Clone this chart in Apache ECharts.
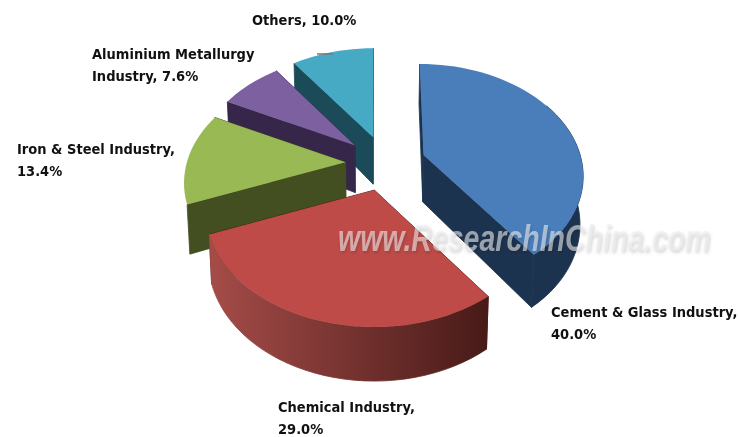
<!DOCTYPE html>
<html>
<head>
<meta charset="utf-8">
<style>
html, body { margin: 0; padding: 0; background: #fff; }
#chart { width: 738px; height: 437px; filter: blur(0.5px); }
</style>
<script src="https://cdn.jsdelivr.net/npm/echarts@6/dist/echarts.min.js"></script>
</head>
<body>
<div id="chart"></div>
<script>
// pie order, clockwise from 12 o'clock
const categories = ['Cement & Glass Industry', 'Chemical Industry', 'Iron & Steel Industry', 'Aluminium Metallurgy Industry', 'Others'];
const shares = [40.0, 29.0, 13.4, 7.6, 10.0];

const topColors = ['#4a7ebb', '#be4b48', '#98b954', '#7d60a0', '#46aac5'];
const wallRight = ['#1c3350', '#471a18', '#434f20', '#35264a', '#1b4a58'];
const wallLeft = ['#1c3350', '#a54c48', '#434f20', '#35264a', '#1b4a58'];
// back to front
const paintOrder = [4, 3, 2, 0, 1];
// label anchors, left edge + first line middle
const labelX = [551, 278, 17, 92, 252];
const labelY = [313, 408, 150, 55, 21];
const labelBreaks = [null, null, null, 'Aluminium Metallurgy\nIndustry', null];

// pie layout
const centerX = 385.5, centerY = 163.5;
const radiusX = 159, radiusY = 107.8, persp = 0.1716;
const explodeX = 40, explodeY = 27.7, explodeWorld = 0.25;
const vanishX = 375;
const depth = 47;

const total = shares.reduce((a, b) => a + b, 0);
let acc = 0;
const startAngle = [], endAngle = [];
shares.forEach((v, i) => {
    startAngle[i] = acc / total * Math.PI * 2;
    acc += v;
    endAngle[i] = acc / total * Math.PI * 2;
});

function project(ox, oy, theta, mid) {
    const X = Math.sin(theta), Y = -Math.cos(theta);
    const s = 1 / (1 - persp * (Y - explodeWorld * Math.cos(mid)));
    return [ox + radiusX * X * s + (ox - vanishX) * (s - 1) * 0.5, oy + radiusY * Y * s, Y, theta];
}
// wall bottom: slightly longer at the front, converging a bit to the middle
function drop(p) {
    const Y = p[2] === undefined ? 0 : p[2];
    return [p[0] + (370 - p[0]) * 0.015, p[1] + depth * (1 + 0.15 * Y)];
}
function poly(points, color, seam) {
    return {
        type: 'polygon',
        shape: { points: points },
        style: seam ? { fill: color, stroke: seam, lineWidth: 0.8 } : { fill: color }
    };
}

function renderSlice(params, api) {
    const i = api.value(0);
    const a0 = startAngle[i], a1 = endAngle[i];
    const mid = (a0 + a1) / 2;
    const ox = centerX + explodeX * Math.sin(mid);
    const oy = centerY - explodeY * Math.cos(mid);
    const apex = [ox, oy, 0];
    const steps = Math.ceil((a1 - a0) / (Math.PI / 60));
    const arc = [];
    for (let k = 0; k <= steps; k++) {
        arc.push(project(ox, oy, a0 + (a1 - a0) * k / steps, mid));
    }
    const children = [
        // cut faces first, rounded wall over them
        poly([apex, arc[0], drop(arc[0]), drop(apex)], wallRight[i], wallRight[i]),
        poly([apex, arc[steps], drop(arc[steps]), drop(apex)], wallRight[i], wallRight[i])
    ];
    // only the part of the rim that faces the viewer
    const front = arc.filter(p => p[3] >= Math.PI / 3 && p[3] <= Math.PI * 1.39);
    if (front.length > 1) {
        const xs = front.map(p => p[0]);
        const fill = {
            type: 'linear',
            global: true,
            x: Math.min.apply(null, xs), y: 0,
            x2: Math.max.apply(null, xs), y2: 0,
            colorStops: [
                { offset: 0, color: wallLeft[i] },
                { offset: 1, color: wallRight[i] }
            ]
        };
        children.push(poly(front.concat(front.map(drop).reverse()), fill, fill));
    }
    children.push(poly([apex].concat(arc), topColors[i]));
    return { type: 'group', children: children };
}

function labelText(i) {
    const name = labelBreaks[i] || categories[i];
    const pct = shares[i].toFixed(1) + '%';
    if (labelBreaks[i] || categories[i] === 'Others') return name + ', ' + pct;
    return name + ',\n' + pct;
}

const labelElements = categories.map((c, i) => ({
    type: 'text',
    x: labelX[i],
    y: labelY[i] - 10.5,
    z: 20,
    style: {
        text: labelText(i),
        fill: '#111',
        font: 'bold 14.5px "DejaVu Sans Condensed", "Liberation Sans", sans-serif',
        lineHeight: 22,
        textVerticalAlign: 'top'
    }
}));

const chart = echarts.init(document.getElementById('chart'));
chart.setOption({
    animation: false,
    backgroundColor: '#fff',
    graphic: labelElements.concat([
        // small leader stub above the Others slice
        {
            type: 'line',
            z: 20,
            shape: { x1: 317, y1: 54, x2: 333, y2: 54 },
            style: { stroke: '#777', lineWidth: 1.5 }
        },
        {
            type: 'text',
            x: 338,
            y: 222,
            z: 30,
            scaleX: 0.77,
            style: {
                text: 'www.ResearchInChina.com',
                font: 'italic bold 37px "Liberation Sans", Arial, sans-serif',
                fill: 'rgba(238,238,238,0.6)',
                textShadowColor: 'rgba(0,0,0,0.25)',
                textShadowBlur: 3,
                textShadowOffsetX: 1,
                textShadowOffsetY: 2
            }
        }
    ]),
    series: [
        {
            type: 'custom',
            coordinateSystem: 'none',
            silent: true,
            renderItem: renderSlice,
            data: paintOrder.map(i => ({ name: categories[i], value: [i, shares[i]] }))
        }
    ]
});
</script>
</body>
</html>
